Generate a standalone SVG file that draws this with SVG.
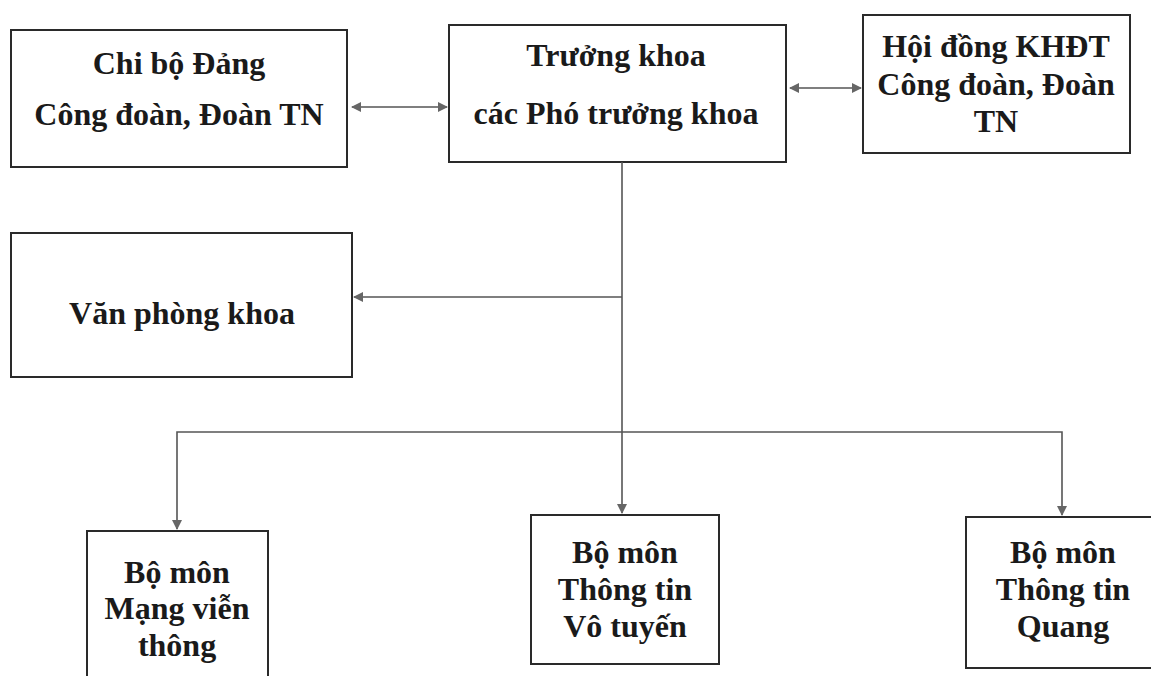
<svg xmlns="http://www.w3.org/2000/svg" width="1151" height="676" viewBox="0 0 1151 676">
<style>
.box{fill:#fff;stroke:#2a2a2a;stroke-width:2}
.t{font-family:"Liberation Serif","Times New Roman",serif;font-weight:bold;font-size:32px;fill:#1a1a1a;text-anchor:middle}
.c{fill:none;stroke:#555;stroke-width:1.6}
</style>
<defs>
<marker id="ah" viewBox="0 0 10 10" refX="9" refY="5" markerWidth="10" markerHeight="10" markerUnits="userSpaceOnUse" orient="auto-start-reverse">
<path d="M0,0 L10,5 L0,10 z" fill="#666"/>
</marker>
</defs>
<rect width="1151" height="676" fill="#fff"/>
<g id="n1"><rect class="box" x="11" y="30" width="336" height="137"/>
<text class="t" x="179" y="74">Chi bộ Đảng</text><text class="t" x="179" y="125">Công đoàn, Đoàn TN</text></g>
<g id="n2"><rect class="box" x="449" y="25" width="337" height="137"/>
<text class="t" x="616" y="66">Trưởng khoa</text><text class="t" x="616" y="124">các Phó trưởng khoa</text></g>
<g id="n3"><rect class="box" x="863" y="15" width="267" height="138"/>
<text class="t" x="996" y="57">Hội đồng KHĐT</text><text class="t" x="996" y="95">Công đoàn, Đoàn</text><text class="t" x="996" y="132">TN</text></g>
<g id="n4"><rect class="box" x="11" y="233" width="341" height="144"/>
<text class="t" x="182" y="324">Văn phòng khoa</text></g>
<g id="n5"><rect class="box" x="87" y="531" width="181" height="160"/>
<text class="t" x="177" y="583">Bộ môn</text><text class="t" x="177" y="619">Mạng viễn</text><text class="t" x="177" y="656">thông</text></g>
<g id="n6"><rect class="box" x="531" y="515" width="188" height="149"/>
<text class="t" x="625" y="563">Bộ môn</text><text class="t" x="625" y="600">Thông tin</text><text class="t" x="625" y="637">Vô tuyến</text></g>
<g id="n7"><rect class="box" x="966" y="517" width="200" height="151"/>
<text class="t" x="1063" y="563">Bộ môn</text><text class="t" x="1063" y="600">Thông tin</text><text class="t" x="1063" y="637">Quang</text></g>
<g id="connectors">
<line class="c" x1="352" y1="107" x2="447" y2="107" marker-start="url(#ah)" marker-end="url(#ah)"/>
<line class="c" x1="790" y1="88" x2="861" y2="88" marker-start="url(#ah)" marker-end="url(#ah)"/>
<line class="c" x1="622" y1="162" x2="622" y2="432"/>
<line class="c" x1="622" y1="297" x2="354" y2="297" marker-end="url(#ah)"/>
<polyline class="c" points="177,529 177,432 1062,432 1062,515" marker-start="url(#ah)" marker-end="url(#ah)"/>
<line class="c" x1="622" y1="432" x2="622" y2="513" marker-end="url(#ah)"/>
</g>
</svg>
